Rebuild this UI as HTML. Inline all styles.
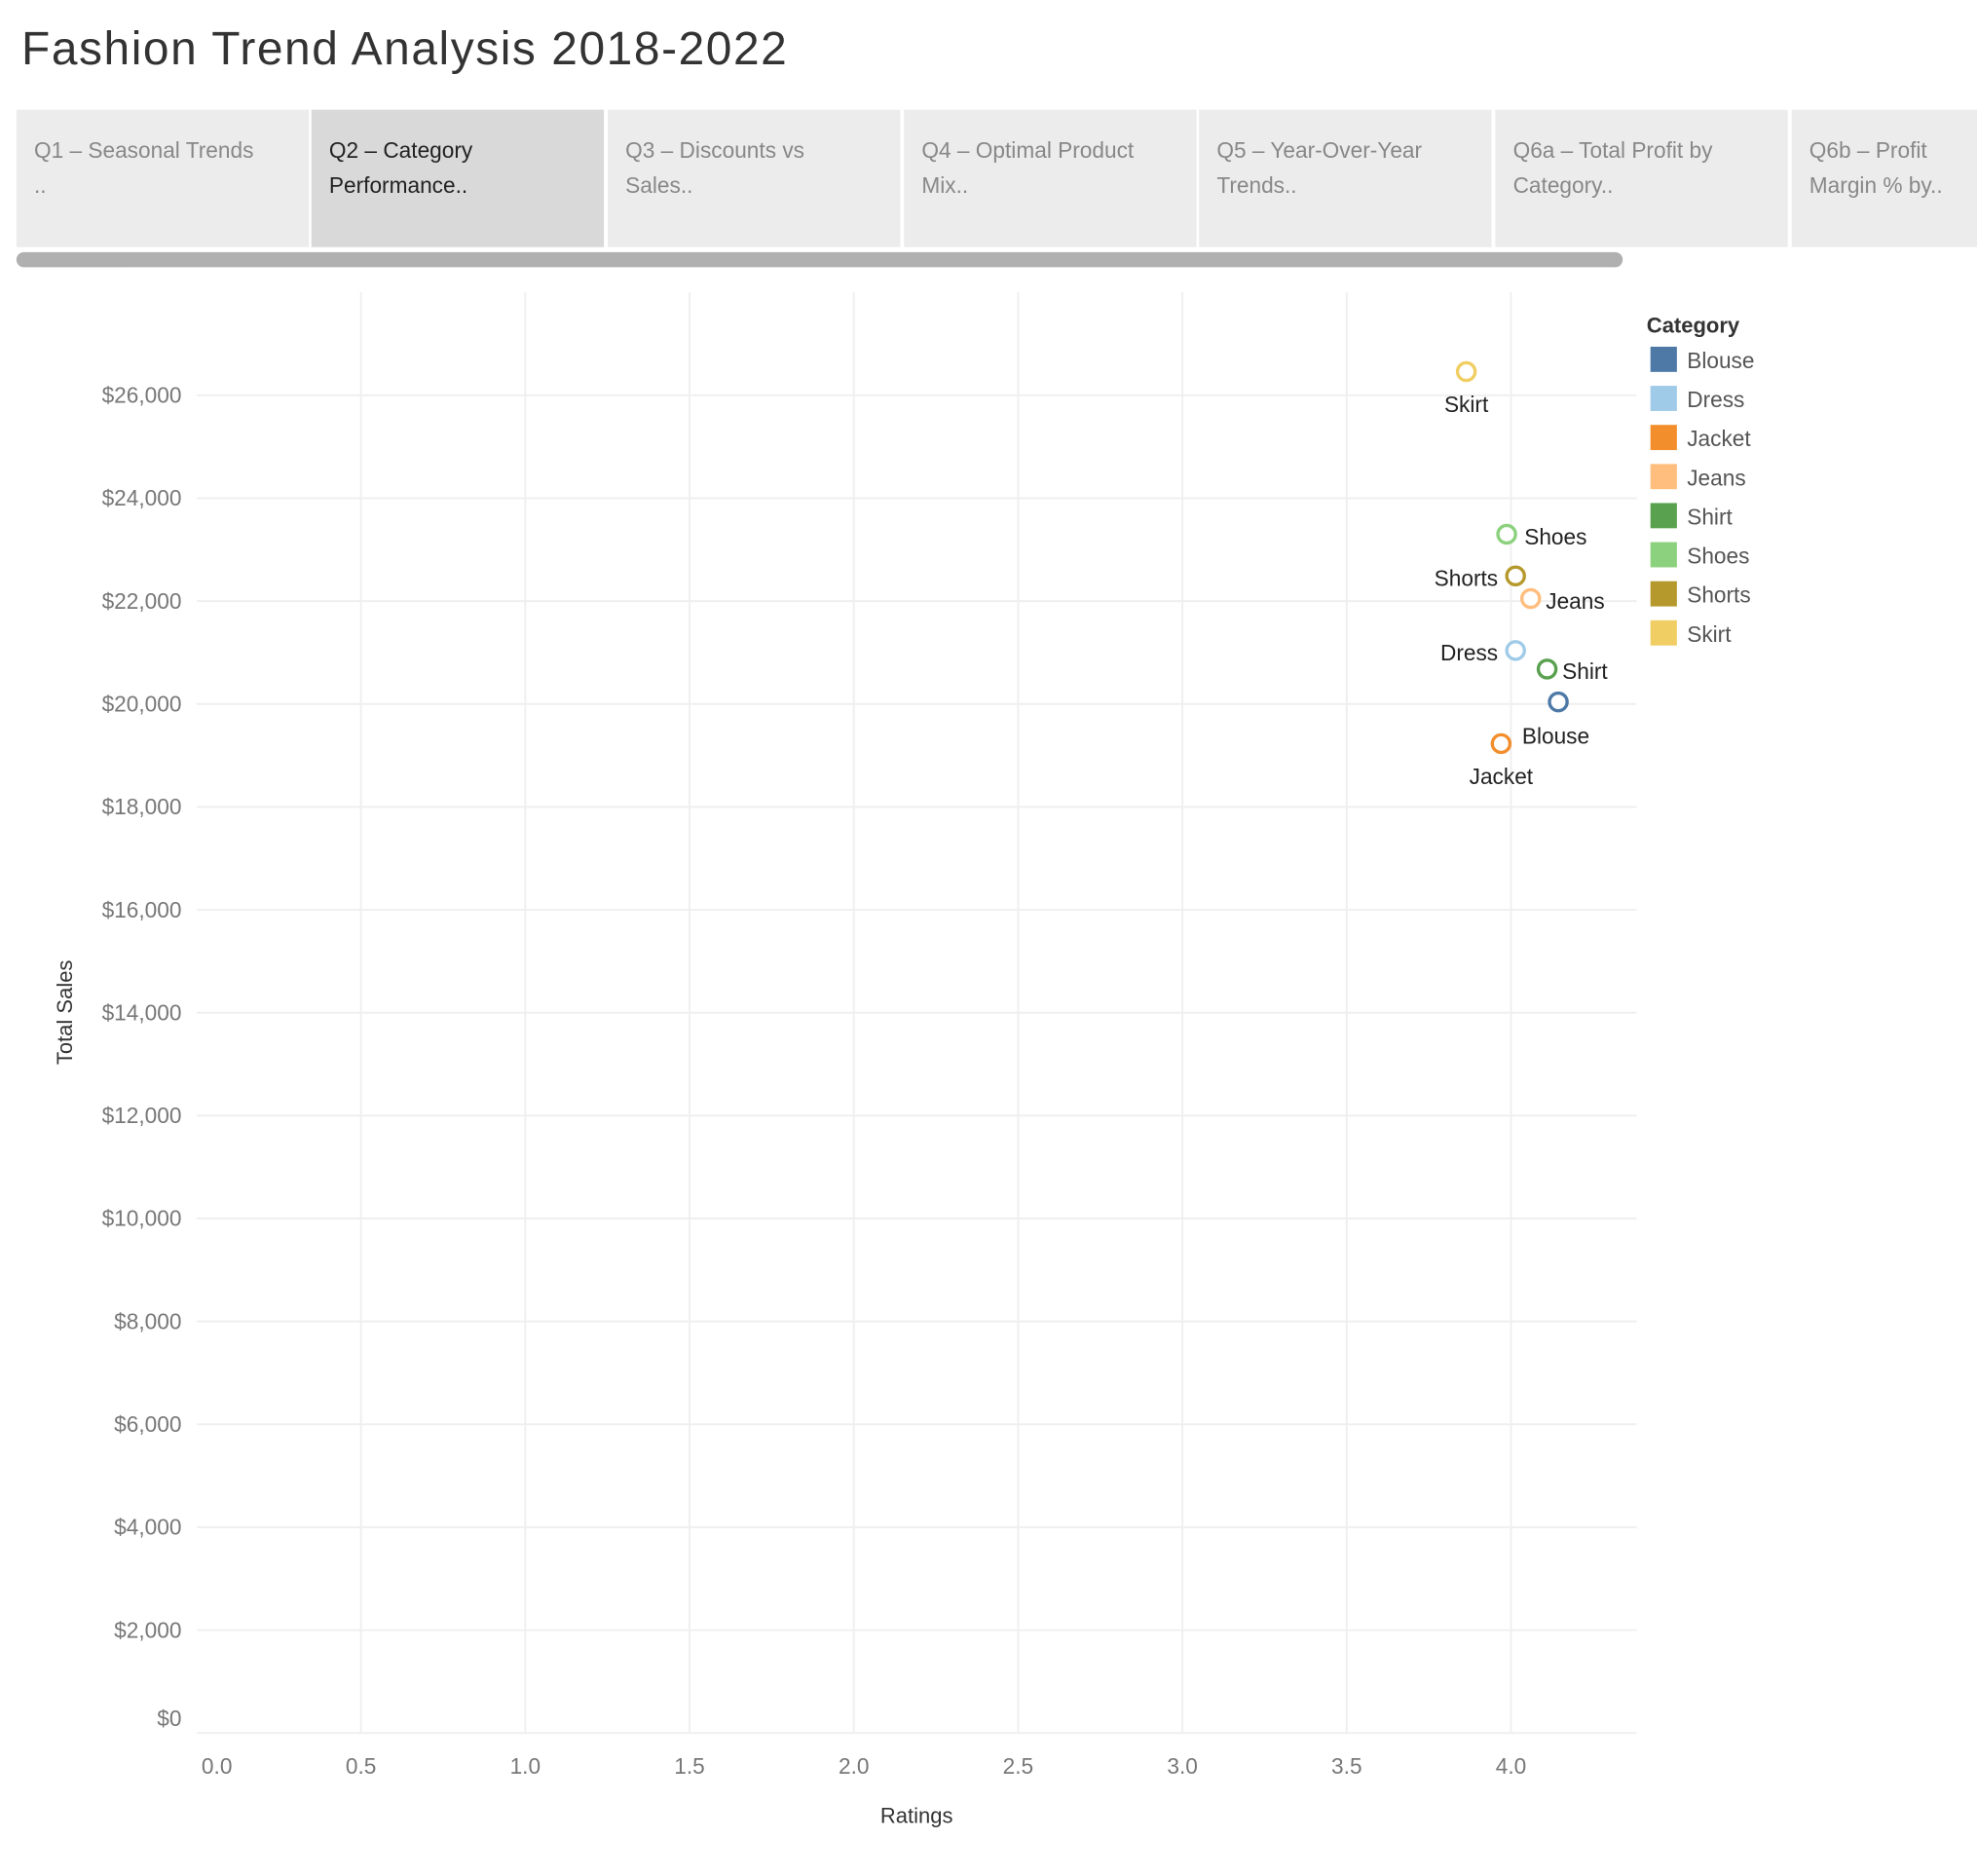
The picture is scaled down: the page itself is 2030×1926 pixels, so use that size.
<!DOCTYPE html>
<html><head><meta charset="utf-8"><style>
html,body{margin:0;padding:0;background:#fff;width:2030px;height:1926px;overflow:hidden;font-family:"Liberation Sans","DejaVu Sans",sans-serif;}
#wrap{position:absolute;left:0;top:0;width:1568px;height:1488px;transform:scale(1.29464,1.29435);transform-origin:0 0;}
.title{position:absolute;left:17px;top:18px;font-size:37px;letter-spacing:1.2px;color:#333;}
.tab{position:absolute;top:87px;width:232px;height:109px;background:#ececec;box-sizing:border-box;padding:18px 14px;font-size:17.5px;line-height:28px;color:#888;}
.tab.active{background:#d9d9d9;color:#222;}
.scroll{position:absolute;left:13px;top:200px;width:1274px;height:12px;background:#b0b0b0;border-radius:6px;}
</style></head><body>
<div id="wrap">
<div class="title">Fashion Trend Analysis 2018-2022</div>
<div class="tab" style="left:13px">Q1 – Seasonal Trends<br>..</div>
<div class="tab active" style="left:247px">Q2 – Category<br>Performance..</div>
<div class="tab" style="left:482px">Q3 – Discounts vs<br>Sales..</div>
<div class="tab" style="left:717px">Q4 – Optimal Product<br>Mix..</div>
<div class="tab" style="left:951px">Q5 – Year-Over-Year<br>Trends..</div>
<div class="tab" style="left:1186px">Q6a – Total Profit by<br>Category..</div>
<div class="tab" style="left:1421px;width:147px;white-space:nowrap;overflow:hidden">Q6b – Profit<br>Margin % by..</div>
<div class="scroll"></div>
<svg id="chart" style="position:absolute;left:0;top:0" width="1568" height="1488"></svg>
</div>
<script>
const categories=["Blouse","Dress","Jacket","Jeans","Shirt","Shoes","Shorts","Skirt"];
const ratings=[4.144,4.014,3.97,4.06,4.11,3.987,4.014,3.864];
const sales=[20040,21040,19230,22050,20680,23300,22490,26460];
const colors=["#4e79a7","#a0cbe8","#f28e2b","#ffbe7d","#59a14f","#8cd17d","#b6992d","#f1ce63"];
const xTicks=[0,0.5,1,1.5,2,2.5,3,3.5,4];
const yTicks=[0,2000,4000,6000,8000,10000,12000,14000,16000,18000,20000,22000,24000,26000];
// label offsets (styling)
const lblDx={Blouse:-2,Dress:-14,Jacket:0,Jeans:12,Shirt:12,Shoes:14,Shorts:-14,Skirt:0};
const lblDy={Blouse:33,Dress:8,Jacket:32,Jeans:8,Shirt:8,Shoes:8,Shorts:8,Skirt:32};
const lblAnchor={Blouse:"middle",Dress:"end",Jacket:"middle",Jeans:"start",Shirt:"start",Shoes:"start",Shorts:"end",Skirt:"middle"};
const NS="http://www.w3.org/2000/svg",svg=document.getElementById("chart");
const X0=156,X1=1298,Y0=232,Y1=1375;
const xs=v=>X0+v*260.6;
const ys=v=>1374.6-v*0.04081;
function mk(t,a,p){const e=document.createElementNS(NS,t);for(const k in a)e.setAttribute(k,a[k]);(p||svg).appendChild(e);return e;}
xTicks.forEach((t,i)=>{if(t>0){const g=mk("line",{x1:xs(t),x2:xs(t),y1:Y0,y2:Y1,stroke:"#efefef","stroke-width":1.5});

}
const l=mk("text",{x:t===0?172:xs(t),y:1407,"text-anchor":"middle","font-size":17.5,fill:"#777"});l.textContent=t.toFixed(1);

});
yTicks.forEach(t=>{const g=mk("line",{x1:X0,x2:X1,y1:ys(t),y2:ys(t),stroke:"#efefef","stroke-width":1.5});


const l=mk("text",{x:144,y:t===0?1369:ys(t)+6,"text-anchor":"end","font-size":17.5,fill:"#777"});l.textContent="$"+t.toLocaleString("en-US");

});
let xt=mk("text",{x:727,y:1446,"text-anchor":"middle","font-size":17,fill:"#333"});xt.textContent="Ratings";


let yt=mk("text",{x:0,y:0,transform:"translate(57,803) rotate(-90)","text-anchor":"middle","font-size":17,fill:"#333"});yt.textContent="Total Sales";


categories.forEach((c,i)=>{const cx=xs(ratings[i]),cy=ys(sales[i]);
const p=mk("circle",{cx:cx,cy:cy,r:7,fill:"#fff",stroke:colors[i],"stroke-width":2.6});


const l=mk("text",{x:cx+lblDx[c],y:cy+lblDy[c],"text-anchor":lblAnchor[c],"font-size":17.5,fill:"#222"});l.textContent=c;

});
let lt=mk("text",{x:1306,y:264,"font-size":17,fill:"#333","font-weight":"bold"});lt.textContent="Category";


categories.forEach((c,i)=>{const y=275+i*31;
const r=mk("rect",{x:1309,y:y,width:21,height:20,fill:colors[i]});


const l=mk("text",{x:1338,y:y+17,"font-size":17.5,fill:"#555"});l.textContent=c;

});
</script>
</body></html>
